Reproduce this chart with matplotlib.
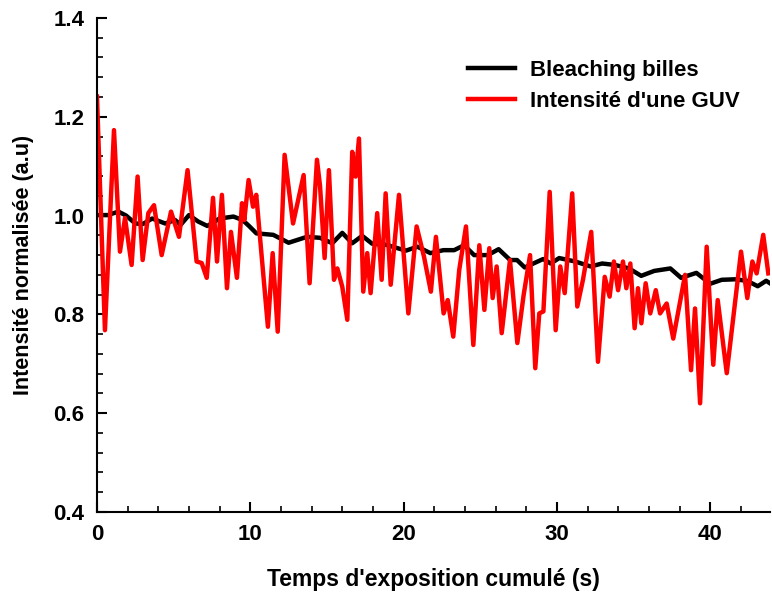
import matplotlib
matplotlib.use("Agg")
import matplotlib.pyplot as plt
from matplotlib.ticker import MultipleLocator

# Bleaching billes (black)
t_billes = [0.0, 0.7, 1.4, 1.9, 2.5, 3.0, 3.6, 4.45, 5.1, 5.45, 6.0, 6.6, 7.2,
            8.0, 8.9, 9.5, 9.95, 10.4, 11.5, 12.5, 13.7, 14.55, 15.35, 16.0,
            16.65, 17.3, 17.95, 18.85, 20.15, 20.9, 21.75, 22.6, 23.3, 23.95,
            24.6, 25.5, 26.2, 26.95, 27.4, 27.9, 29.1, 29.6, 30.15, 31.2, 32.2,
            32.95, 33.8, 34.7, 35.5, 36.35, 37.4, 38.1, 39.1, 40.0, 40.75, 41.6,
            42.4, 43.1, 43.65, 43.95]
i_billes = [1.001, 1.001, 1.008, 1.0, 0.984, 0.983, 0.994, 0.984, 0.991, 0.981,
            1.001, 0.988, 0.979, 0.994, 0.998, 0.991, 0.978, 0.964, 0.961, 0.945,
            0.957, 0.955, 0.944, 0.965, 0.944, 0.959, 0.943, 0.941, 0.929, 0.937,
            0.924, 0.93, 0.93, 0.94, 0.92, 0.92, 0.932, 0.91, 0.91, 0.895, 0.912,
            0.903, 0.914, 0.907, 0.897, 0.903, 0.9, 0.893, 0.878, 0.888, 0.893,
            0.874, 0.884, 0.862, 0.87, 0.871, 0.868, 0.857, 0.868, 0.862]

# Intensite d'une GUV (red)
t_guv = [0.0, 0.52, 1.11, 1.5, 1.83, 2.26, 2.65, 2.98, 3.35, 3.72, 4.22, 4.83,
         5.35, 5.91, 6.5, 6.83, 7.16, 7.57, 7.83, 8.15, 8.48, 8.74, 9.13, 9.46,
         9.61, 9.89, 10.18, 10.39, 11.15, 11.46, 11.79, 12.24, 12.79, 13.48,
         13.87, 14.35, 14.55, 14.85, 15.13, 15.46, 15.68, 16.0, 16.33, 16.65,
         16.87, 17.09, 17.37, 17.63, 17.85, 18.28, 18.57, 18.83, 19.16, 19.7,
         20.31, 20.85, 21.33, 21.78, 22.11, 22.61, 22.88, 23.24, 23.63, 24.07,
         24.55, 24.94, 25.27, 25.59, 25.81, 26.07, 26.4, 26.94, 27.42, 27.83,
         28.25, 28.59, 28.85, 29.12, 29.53, 29.92, 30.22, 30.51, 31.0, 31.33,
         31.7, 32.24, 32.68, 33.12, 33.44, 33.72, 33.99, 34.31, 34.53, 34.79,
         35.07, 35.29, 35.51, 35.79, 36.09, 36.45, 36.73, 37.16, 37.59, 38.36,
         38.75, 39.01, 39.34, 39.77, 40.2, 40.49, 41.08, 42.01, 42.42, 42.75,
         43.03, 43.46, 43.79]
i_guv = [1.241, 0.768, 1.173, 0.927, 0.995, 0.9, 1.079, 0.91, 1.005, 1.021,
         0.92, 1.008, 0.957, 1.092, 0.907, 0.904, 0.874, 1.036, 0.907, 1.042,
         0.853, 0.967, 0.874, 1.025, 0.991, 1.072, 1.018, 1.042, 0.775, 0.924,
         0.765, 1.123, 0.984, 1.082, 0.863, 1.113, 1.06, 0.914, 1.092, 0.87,
         0.893, 0.856, 0.789, 1.129, 1.079, 1.156, 0.846, 0.924, 0.843, 1.005,
         0.87, 1.045, 0.86, 1.042, 0.802, 0.978, 0.917, 0.846, 0.957, 0.802,
         0.829, 0.755, 0.89, 0.978, 0.738, 0.94, 0.809, 0.934, 0.833, 0.897,
         0.762, 0.91, 0.742, 0.839, 0.92, 0.691, 0.802, 0.806, 1.048, 0.768,
         0.897, 0.843, 1.045, 0.816, 0.87, 0.967, 0.704, 0.876, 0.836, 0.907,
         0.849, 0.907, 0.853, 0.903, 0.772, 0.853, 0.782, 0.863, 0.802, 0.849,
         0.802, 0.822, 0.751, 0.88, 0.687, 0.812, 0.62, 0.937, 0.698, 0.829,
         0.681, 0.927, 0.833, 0.907, 0.883, 0.961, 0.883]

plt.rcParams['font.family'] = ['Liberation Sans', 'DejaVu Sans']

fig = plt.figure(figsize=(7.72, 5.95), dpi=100)
ax = fig.add_axes([0.1256, 0.1395, 0.8718, 0.8303])

ax.plot(t_billes, i_billes, color='black', lw=3.2, label='Bleaching billes',
        solid_joinstyle='round')
ax.plot(t_guv, i_guv, color='#ff0000', lw=3.2, label="Intensité d'une GUV",
        solid_joinstyle='round')

ax.set_xlim(0, 43.9)
ax.set_ylim(0.4, 1.4)
ax.xaxis.set_major_locator(MultipleLocator(10))
ax.xaxis.set_minor_locator(MultipleLocator(2))
ax.yaxis.set_major_locator(MultipleLocator(0.2))
ax.yaxis.set_minor_locator(MultipleLocator(0.04))
ax.yaxis.set_major_formatter(plt.FormatStrFormatter('%.1f'))

for s in ['top', 'right']:
    ax.spines[s].set_visible(False)
for s in ['left', 'bottom']:
    ax.spines[s].set_linewidth(1.5)

ax.tick_params(which='major', direction='in', length=7, width=1.5,
               labelsize=16, pad=9)
ax.tick_params(which='minor', direction='in', length=4, width=1.2)
for lab in ax.get_xticklabels() + ax.get_yticklabels():
    lab.set_fontweight('bold')

ax.set_xlabel("Temps d'exposition cumulé (s)", fontsize=16.5, fontweight='bold',
              labelpad=16)
ax.set_ylabel("Intensité normalisée (a.u)", fontsize=15.5, fontweight='bold',
              labelpad=14)

leg = ax.legend(loc='upper right', bbox_to_anchor=(0.985, 0.955), frameon=False,
                prop={'size': 16, 'weight': 'bold'}, handlelength=2.1,
                handletextpad=0.7, labelspacing=0.45)

fig.savefig('out.png', dpi=100)
